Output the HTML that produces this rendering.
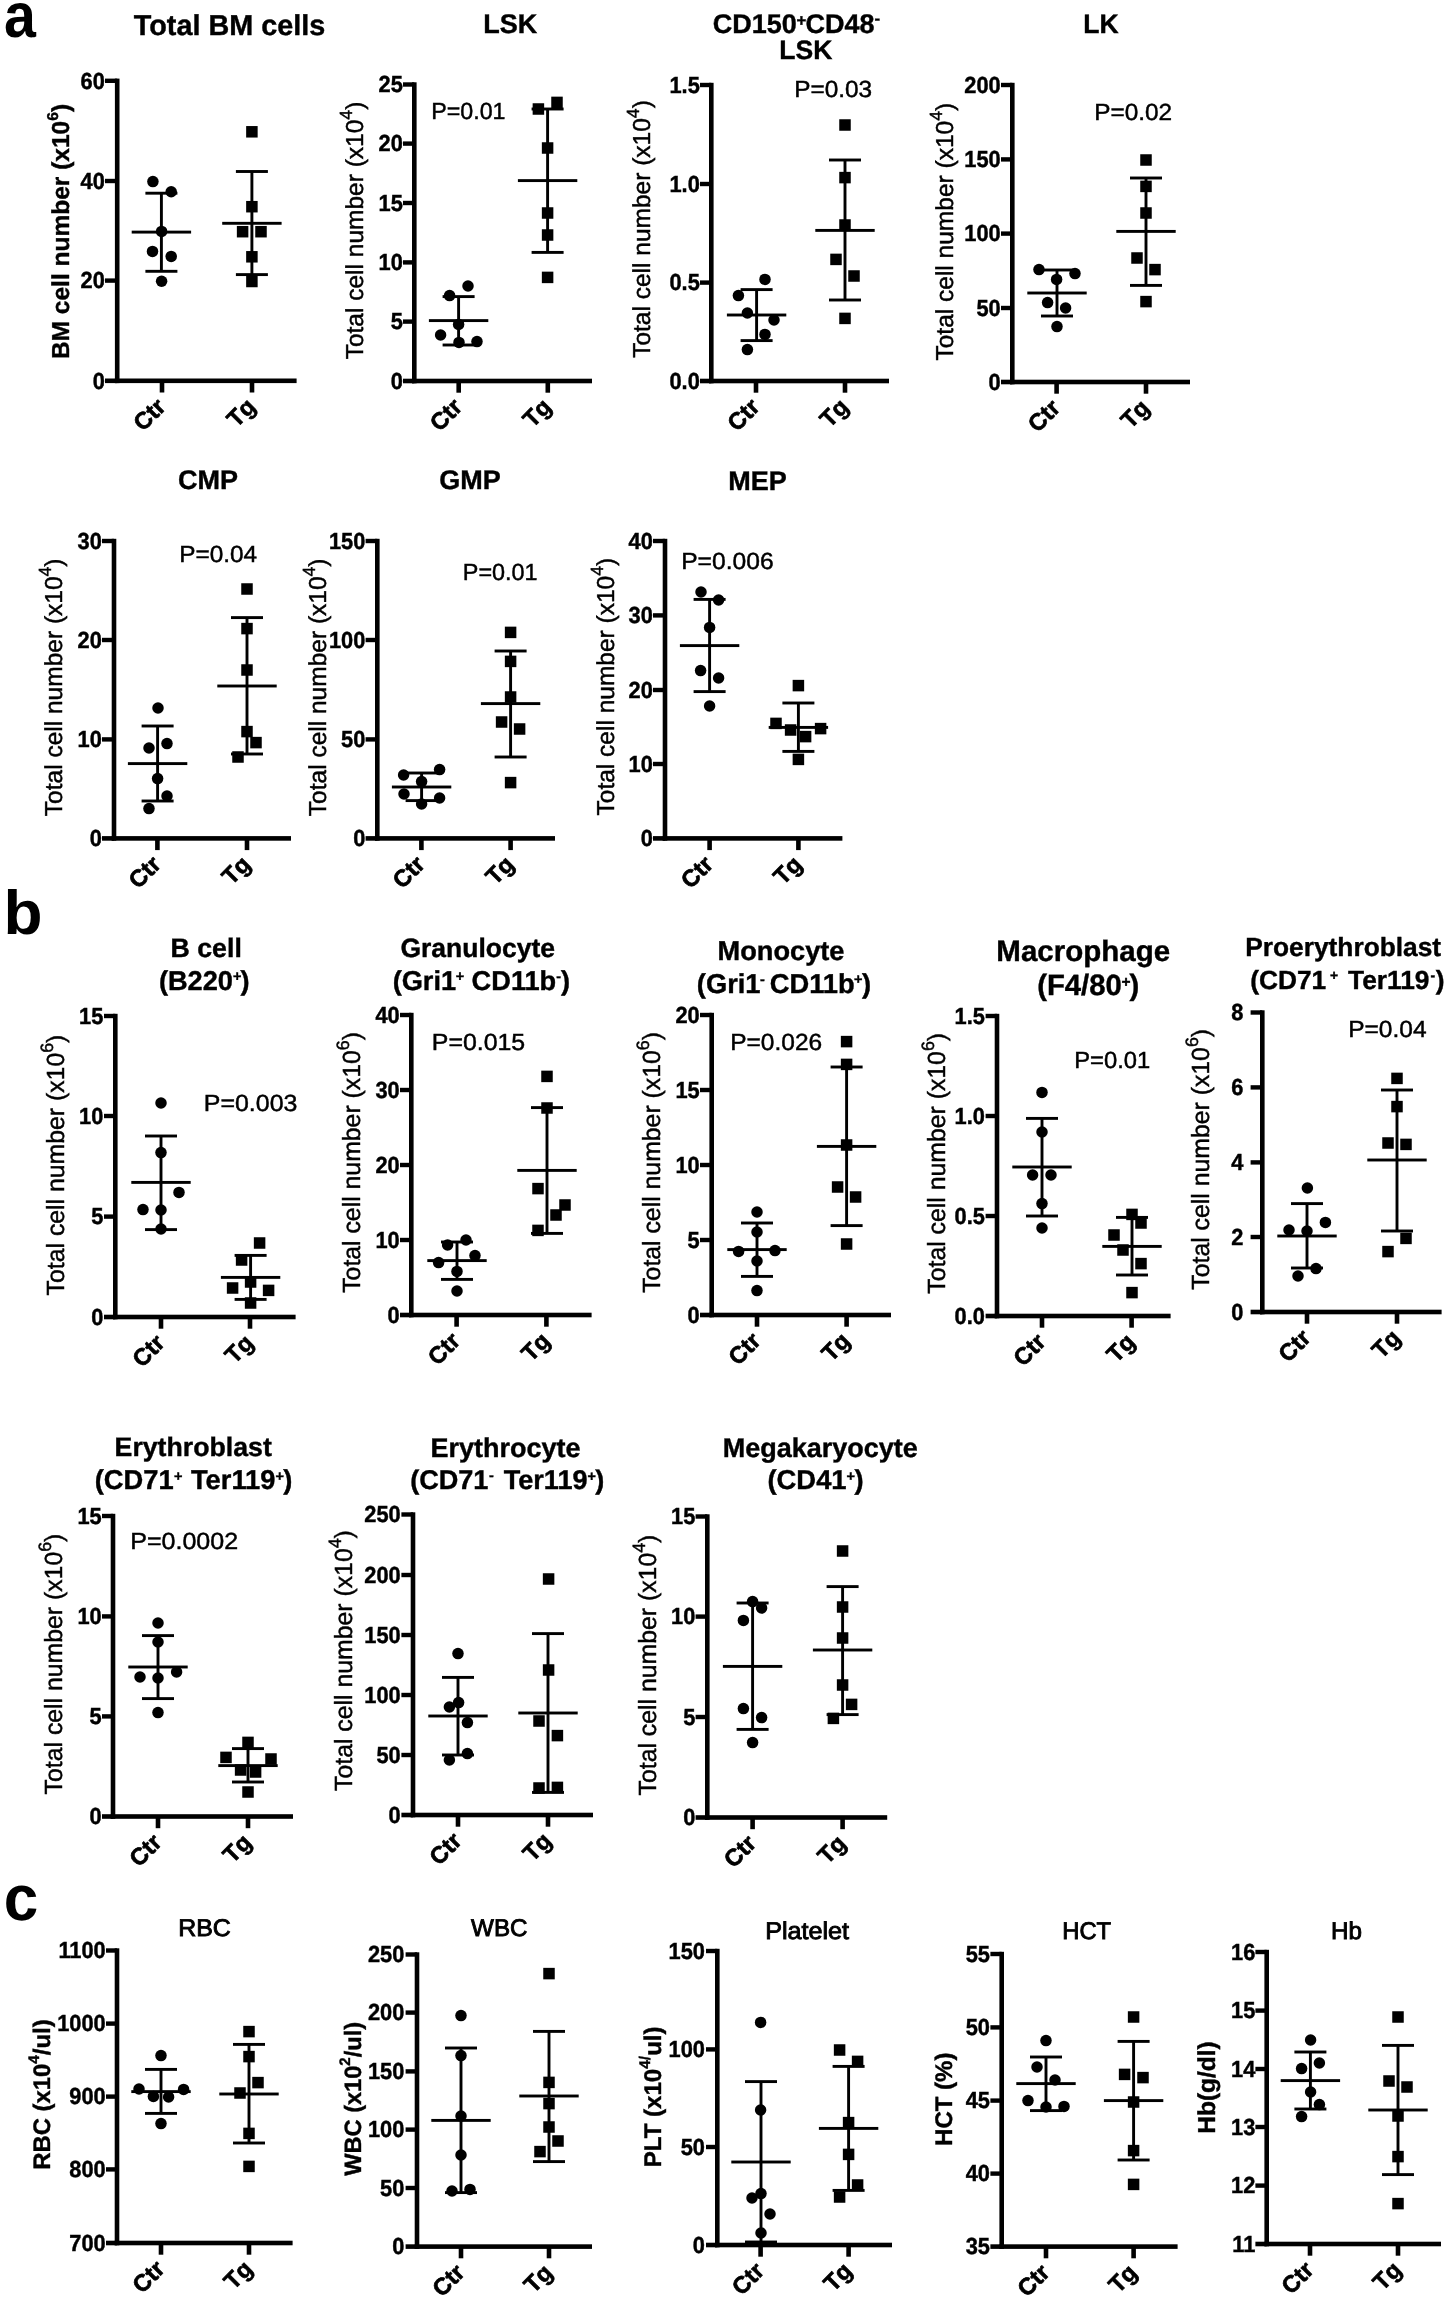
<!DOCTYPE html>
<html><head><meta charset="utf-8"><title>Figure</title>
<style>
html,body{margin:0;padding:0;background:#fff;}
svg{display:block;font-family:"Liberation Sans", sans-serif;fill:#000;will-change:transform;text-rendering:geometricPrecision;}
</style></head><body>
<svg width="1451" height="2300" viewBox="0 0 1451 2300">
<rect x="0" y="0" width="1451" height="2300" fill="#fff"/>
<g>
<rect x="114.9" y="78.6" width="4.6" height="304.5"/>
<rect x="114.9" y="378.5" width="181.7" height="4.6"/>
<rect x="105" y="78.6" width="12.2" height="4.4"/>
<text transform="translate(104.8 88.6) scale(0.94 1)" font-size="23.2" font-weight="bold" text-anchor="end" stroke="#000" stroke-width="0.45">60</text>
<rect x="105" y="178.8" width="12.2" height="4.4"/>
<text transform="translate(104.8 188.8) scale(0.94 1)" font-size="23.2" font-weight="bold" text-anchor="end" stroke="#000" stroke-width="0.45">40</text>
<rect x="105" y="278.4" width="12.2" height="4.4"/>
<text transform="translate(104.8 288.4) scale(0.94 1)" font-size="23.2" font-weight="bold" text-anchor="end" stroke="#000" stroke-width="0.45">20</text>
<rect x="105" y="378.5" width="12.2" height="4.6"/>
<text transform="translate(104.8 388.6) scale(0.94 1)" font-size="23.2" font-weight="bold" text-anchor="end" stroke="#000" stroke-width="0.45">0</text>
<rect x="159.7" y="380.8" width="4.6" height="11.7"/>
<text x="166.9" y="408.2" font-size="23.5" font-weight="bold" stroke="#000" stroke-width="0.7" text-anchor="end" transform="rotate(-45 166.9 408.2)">Ctr</text>
<rect x="249.7" y="380.8" width="4.6" height="11.7"/>
<text x="256.9" y="408.2" font-size="23.5" font-weight="bold" stroke="#000" stroke-width="0.7" text-anchor="end" transform="rotate(-45 256.9 408.2)">Tg</text>
<text x="69.2" y="231.5" font-size="24.5" font-weight="bold" stroke="#000" stroke-width="0.4" text-anchor="middle" transform="rotate(-90 69.2 231.5)">BM cell number (x10<tspan font-size="15.68" dy="-11.27">6</tspan><tspan dy="11.27">)</tspan></text>
<rect x="131.7" y="230.65" width="59.4" height="2.9"/>
<rect x="145.4" y="191.75" width="32" height="2.9"/>
<rect x="145.4" y="269.85" width="32" height="2.9"/>
<rect x="159.95" y="193.2" width="2.9" height="78.1"/>
<circle cx="152.9" cy="181.6" r="5.75"/>
<circle cx="171.2" cy="191.8" r="5.75"/>
<circle cx="161.6" cy="231.4" r="5.75"/>
<circle cx="152.5" cy="251.4" r="5.75"/>
<circle cx="171.2" cy="256.4" r="5.75"/>
<circle cx="161.6" cy="281.3" r="5.75"/>
<rect x="222.2" y="221.85" width="59.4" height="2.9"/>
<rect x="235.9" y="170.05" width="32" height="2.9"/>
<rect x="235.9" y="273.15" width="32" height="2.9"/>
<rect x="250.45" y="171.5" width="2.9" height="103.1"/>
<rect x="246.15" y="126.05" width="11.5" height="11.5"/>
<rect x="246.15" y="200.95" width="11.5" height="11.5"/>
<rect x="236.85" y="225.95" width="11.5" height="11.5"/>
<rect x="255.25" y="225.95" width="11.5" height="11.5"/>
<rect x="246.15" y="251.05" width="11.5" height="11.5"/>
<rect x="246.15" y="275.75" width="11.5" height="11.5"/>
</g>
<g>
<rect x="412" y="82.3" width="4.6" height="301"/>
<rect x="412" y="378.7" width="180" height="4.6"/>
<rect x="403" y="82.3" width="11.3" height="4.4"/>
<text transform="translate(402.8 92.3) scale(0.94 1)" font-size="23.2" font-weight="bold" text-anchor="end" stroke="#000" stroke-width="0.45">25</text>
<rect x="403" y="141.4" width="11.3" height="4.4"/>
<text transform="translate(402.8 151.4) scale(0.94 1)" font-size="23.2" font-weight="bold" text-anchor="end" stroke="#000" stroke-width="0.45">20</text>
<rect x="403" y="200.8" width="11.3" height="4.4"/>
<text transform="translate(402.8 210.8) scale(0.94 1)" font-size="23.2" font-weight="bold" text-anchor="end" stroke="#000" stroke-width="0.45">15</text>
<rect x="403" y="260.2" width="11.3" height="4.4"/>
<text transform="translate(402.8 270.2) scale(0.94 1)" font-size="23.2" font-weight="bold" text-anchor="end" stroke="#000" stroke-width="0.45">10</text>
<rect x="403" y="319.4" width="11.3" height="4.4"/>
<text transform="translate(402.8 329.4) scale(0.94 1)" font-size="23.2" font-weight="bold" text-anchor="end" stroke="#000" stroke-width="0.45">5</text>
<rect x="403" y="378.7" width="11.3" height="4.6"/>
<text transform="translate(402.8 388.8) scale(0.94 1)" font-size="23.2" font-weight="bold" text-anchor="end" stroke="#000" stroke-width="0.45">0</text>
<rect x="456.4" y="381" width="4.6" height="11.7"/>
<text x="463.6" y="408.4" font-size="23.5" font-weight="bold" stroke="#000" stroke-width="0.7" text-anchor="end" transform="rotate(-45 463.6 408.4)">Ctr</text>
<rect x="545.5" y="381" width="4.6" height="11.7"/>
<text x="552.7" y="408.4" font-size="23.5" font-weight="bold" stroke="#000" stroke-width="0.7" text-anchor="end" transform="rotate(-45 552.7 408.4)">Tg</text>
<text x="363" y="230.5" font-size="24.5" stroke="#000" stroke-width="0.45" text-anchor="middle" transform="rotate(-90 363 230.5)">Total cell number (x10<tspan font-size="17.64" dy="-10.78">4</tspan><tspan dy="10.78">)</tspan></text>
<rect x="428.9" y="319.15" width="59.4" height="2.9"/>
<rect x="442.6" y="295.15" width="32" height="2.9"/>
<rect x="442.6" y="343.55" width="32" height="2.9"/>
<rect x="457.15" y="296.6" width="2.9" height="48.4"/>
<circle cx="468" cy="286" r="5.75"/>
<circle cx="449.6" cy="295.6" r="5.75"/>
<circle cx="458.6" cy="324.4" r="5.75"/>
<circle cx="440.6" cy="335" r="5.75"/>
<circle cx="459" cy="342.4" r="5.75"/>
<circle cx="477" cy="341.6" r="5.75"/>
<rect x="517.9" y="179.15" width="59.4" height="2.9"/>
<rect x="531.6" y="107.55" width="32" height="2.9"/>
<rect x="531.6" y="250.95" width="32" height="2.9"/>
<rect x="546.15" y="109" width="2.9" height="143.4"/>
<rect x="532.65" y="103.25" width="11.5" height="11.5"/>
<rect x="551.25" y="96.65" width="11.5" height="11.5"/>
<rect x="541.85" y="142.25" width="11.5" height="11.5"/>
<rect x="541.85" y="207.25" width="11.5" height="11.5"/>
<rect x="541.85" y="229.25" width="11.5" height="11.5"/>
<rect x="541.85" y="271.65" width="11.5" height="11.5"/>
<text x="431.2" y="119" font-size="23.3" stroke="#000" stroke-width="0.45" textLength="74.3" lengthAdjust="spacingAndGlyphs">P=0.01</text>
</g>
<g>
<rect x="709" y="82.8" width="4.6" height="300.5"/>
<rect x="709" y="378.7" width="180" height="4.6"/>
<rect x="700" y="82.8" width="11.3" height="4.4"/>
<text transform="translate(699.8 92.8) scale(0.94 1)" font-size="23.2" font-weight="bold" text-anchor="end" stroke="#000" stroke-width="0.45">1.5</text>
<rect x="700" y="181.8" width="11.3" height="4.4"/>
<text transform="translate(699.8 191.8) scale(0.94 1)" font-size="23.2" font-weight="bold" text-anchor="end" stroke="#000" stroke-width="0.45">1.0</text>
<rect x="700" y="280.4" width="11.3" height="4.4"/>
<text transform="translate(699.8 290.4) scale(0.94 1)" font-size="23.2" font-weight="bold" text-anchor="end" stroke="#000" stroke-width="0.45">0.5</text>
<rect x="700" y="378.7" width="11.3" height="4.6"/>
<text transform="translate(699.8 388.8) scale(0.94 1)" font-size="23.2" font-weight="bold" text-anchor="end" stroke="#000" stroke-width="0.45">0.0</text>
<rect x="753.7" y="381" width="4.6" height="11.7"/>
<text x="760.9" y="408.4" font-size="23.5" font-weight="bold" stroke="#000" stroke-width="0.7" text-anchor="end" transform="rotate(-45 760.9 408.4)">Ctr</text>
<rect x="842.7" y="381" width="4.6" height="11.7"/>
<text x="849.9" y="408.4" font-size="23.5" font-weight="bold" stroke="#000" stroke-width="0.7" text-anchor="end" transform="rotate(-45 849.9 408.4)">Tg</text>
<text x="650" y="229" font-size="24.5" stroke="#000" stroke-width="0.45" text-anchor="middle" transform="rotate(-90 650 229)">Total cell number (x10<tspan font-size="17.64" dy="-10.78">4</tspan><tspan dy="10.78">)</tspan></text>
<rect x="726.9" y="313.55" width="59.4" height="2.9"/>
<rect x="740.6" y="288.15" width="32" height="2.9"/>
<rect x="740.6" y="339.15" width="32" height="2.9"/>
<rect x="755.15" y="289.6" width="2.9" height="51"/>
<circle cx="765" cy="279.4" r="5.75"/>
<circle cx="738.4" cy="295.6" r="5.75"/>
<circle cx="747.4" cy="313" r="5.75"/>
<circle cx="774" cy="320" r="5.75"/>
<circle cx="765" cy="334.4" r="5.75"/>
<circle cx="747.4" cy="349.6" r="5.75"/>
<rect x="815.3" y="228.95" width="59.4" height="2.9"/>
<rect x="829" y="158.55" width="32" height="2.9"/>
<rect x="829" y="298.55" width="32" height="2.9"/>
<rect x="843.55" y="160" width="2.9" height="140"/>
<rect x="839.25" y="119.25" width="11.5" height="11.5"/>
<rect x="839.25" y="171.85" width="11.5" height="11.5"/>
<rect x="839.25" y="219.25" width="11.5" height="11.5"/>
<rect x="830.25" y="253.65" width="11.5" height="11.5"/>
<rect x="848.25" y="270.25" width="11.5" height="11.5"/>
<rect x="839.25" y="312.65" width="11.5" height="11.5"/>
<text x="794.2" y="97" font-size="23.3" stroke="#000" stroke-width="0.45" textLength="78" lengthAdjust="spacingAndGlyphs">P=0.03</text>
</g>
<g>
<rect x="1010" y="82.8" width="4.6" height="301.5"/>
<rect x="1010" y="379.7" width="180" height="4.6"/>
<rect x="1001" y="82.8" width="11.3" height="4.4"/>
<text transform="translate(1000.7 92.8) scale(0.94 1)" font-size="23.2" font-weight="bold" text-anchor="end" stroke="#000" stroke-width="0.45">200</text>
<rect x="1001" y="157.2" width="11.3" height="4.4"/>
<text transform="translate(1000.7 167.2) scale(0.94 1)" font-size="23.2" font-weight="bold" text-anchor="end" stroke="#000" stroke-width="0.45">150</text>
<rect x="1001" y="231.4" width="11.3" height="4.4"/>
<text transform="translate(1000.7 241.4) scale(0.94 1)" font-size="23.2" font-weight="bold" text-anchor="end" stroke="#000" stroke-width="0.45">100</text>
<rect x="1001" y="305.8" width="11.3" height="4.4"/>
<text transform="translate(1000.7 315.8) scale(0.94 1)" font-size="23.2" font-weight="bold" text-anchor="end" stroke="#000" stroke-width="0.45">50</text>
<rect x="1001" y="379.7" width="11.3" height="4.6"/>
<text transform="translate(1000.7 389.8) scale(0.94 1)" font-size="23.2" font-weight="bold" text-anchor="end" stroke="#000" stroke-width="0.45">0</text>
<rect x="1054.3" y="382" width="4.6" height="11.7"/>
<text x="1061.5" y="409.4" font-size="23.5" font-weight="bold" stroke="#000" stroke-width="0.7" text-anchor="end" transform="rotate(-45 1061.5 409.4)">Ctr</text>
<rect x="1143.7" y="382" width="4.6" height="11.7"/>
<text x="1150.9" y="409.4" font-size="23.5" font-weight="bold" stroke="#000" stroke-width="0.7" text-anchor="end" transform="rotate(-45 1150.9 409.4)">Tg</text>
<text x="953" y="231.7" font-size="24.5" stroke="#000" stroke-width="0.45" text-anchor="middle" transform="rotate(-90 953 231.7)">Total cell number (x10<tspan font-size="17.64" dy="-10.78">4</tspan><tspan dy="10.78">)</tspan></text>
<rect x="1027.3" y="291.55" width="59.4" height="2.9"/>
<rect x="1041" y="268.55" width="32" height="2.9"/>
<rect x="1041" y="314.55" width="32" height="2.9"/>
<rect x="1055.55" y="270" width="2.9" height="46"/>
<circle cx="1039" cy="269.6" r="5.75"/>
<circle cx="1075" cy="273.6" r="5.75"/>
<circle cx="1056.6" cy="279.4" r="5.75"/>
<circle cx="1047.6" cy="302.6" r="5.75"/>
<circle cx="1065.6" cy="308" r="5.75"/>
<circle cx="1057" cy="326.6" r="5.75"/>
<rect x="1116.3" y="229.95" width="59.4" height="2.9"/>
<rect x="1130" y="176.55" width="32" height="2.9"/>
<rect x="1130" y="283.95" width="32" height="2.9"/>
<rect x="1144.55" y="178" width="2.9" height="107.4"/>
<rect x="1140.25" y="154.25" width="11.5" height="11.5"/>
<rect x="1140.25" y="180.65" width="11.5" height="11.5"/>
<rect x="1140.25" y="207.25" width="11.5" height="11.5"/>
<rect x="1131.25" y="252.25" width="11.5" height="11.5"/>
<rect x="1149.25" y="263.85" width="11.5" height="11.5"/>
<rect x="1140.25" y="295.85" width="11.5" height="11.5"/>
<text x="1094.2" y="119.6" font-size="23.3" stroke="#000" stroke-width="0.45" textLength="78" lengthAdjust="spacingAndGlyphs">P=0.02</text>
</g>
<g>
<rect x="111.7" y="538.8" width="4.6" height="301.9"/>
<rect x="111.7" y="836.1" width="179.3" height="4.6"/>
<rect x="102" y="538.8" width="12" height="4.4"/>
<text transform="translate(101.8 548.8) scale(0.94 1)" font-size="23.2" font-weight="bold" text-anchor="end" stroke="#000" stroke-width="0.45">30</text>
<rect x="102" y="637.8" width="12" height="4.4"/>
<text transform="translate(101.8 647.8) scale(0.94 1)" font-size="23.2" font-weight="bold" text-anchor="end" stroke="#000" stroke-width="0.45">20</text>
<rect x="102" y="737.2" width="12" height="4.4"/>
<text transform="translate(101.8 747.2) scale(0.94 1)" font-size="23.2" font-weight="bold" text-anchor="end" stroke="#000" stroke-width="0.45">10</text>
<rect x="102" y="836.1" width="12" height="4.6"/>
<text transform="translate(101.8 846.2) scale(0.94 1)" font-size="23.2" font-weight="bold" text-anchor="end" stroke="#000" stroke-width="0.45">0</text>
<rect x="155.1" y="838.4" width="4.6" height="11.7"/>
<text x="162.3" y="865.8" font-size="23.5" font-weight="bold" stroke="#000" stroke-width="0.7" text-anchor="end" transform="rotate(-45 162.3 865.8)">Ctr</text>
<rect x="244.7" y="838.4" width="4.6" height="11.7"/>
<text x="251.9" y="865.8" font-size="23.5" font-weight="bold" stroke="#000" stroke-width="0.7" text-anchor="end" transform="rotate(-45 251.9 865.8)">Tg</text>
<text x="62" y="687.3" font-size="24.5" stroke="#000" stroke-width="0.45" text-anchor="middle" transform="rotate(-90 62 687.3)">Total cell number (x10<tspan font-size="17.64" dy="-10.78">4</tspan><tspan dy="10.78">)</tspan></text>
<rect x="127.9" y="762.15" width="59.4" height="2.9"/>
<rect x="141.6" y="724.55" width="32" height="2.9"/>
<rect x="141.6" y="799.55" width="32" height="2.9"/>
<rect x="156.15" y="726" width="2.9" height="75"/>
<circle cx="158" cy="708" r="5.75"/>
<circle cx="149" cy="748" r="5.75"/>
<circle cx="167" cy="743.6" r="5.75"/>
<circle cx="157.6" cy="778.6" r="5.75"/>
<circle cx="167" cy="796" r="5.75"/>
<circle cx="149" cy="808.6" r="5.75"/>
<rect x="217.3" y="684.55" width="59.4" height="2.9"/>
<rect x="231" y="616.15" width="32" height="2.9"/>
<rect x="231" y="752.55" width="32" height="2.9"/>
<rect x="245.55" y="617.6" width="2.9" height="136.4"/>
<rect x="241.25" y="583.25" width="11.5" height="11.5"/>
<rect x="241.25" y="622.85" width="11.5" height="11.5"/>
<rect x="241.25" y="664.25" width="11.5" height="11.5"/>
<rect x="241.25" y="725.85" width="11.5" height="11.5"/>
<rect x="250.25" y="736.85" width="11.5" height="11.5"/>
<rect x="232.25" y="751.25" width="11.5" height="11.5"/>
<text x="179.2" y="562" font-size="23.3" stroke="#000" stroke-width="0.45" textLength="78" lengthAdjust="spacingAndGlyphs">P=0.04</text>
</g>
<g>
<rect x="375" y="538.8" width="4.6" height="301.9"/>
<rect x="375" y="836.1" width="180" height="4.6"/>
<rect x="365.6" y="538.8" width="11.7" height="4.4"/>
<text transform="translate(365.3 548.8) scale(0.94 1)" font-size="23.2" font-weight="bold" text-anchor="end" stroke="#000" stroke-width="0.45">150</text>
<rect x="365.6" y="637.8" width="11.7" height="4.4"/>
<text transform="translate(365.3 647.8) scale(0.94 1)" font-size="23.2" font-weight="bold" text-anchor="end" stroke="#000" stroke-width="0.45">100</text>
<rect x="365.6" y="737.2" width="11.7" height="4.4"/>
<text transform="translate(365.3 747.2) scale(0.94 1)" font-size="23.2" font-weight="bold" text-anchor="end" stroke="#000" stroke-width="0.45">50</text>
<rect x="365.6" y="836.1" width="11.7" height="4.6"/>
<text transform="translate(365.3 846.2) scale(0.94 1)" font-size="23.2" font-weight="bold" text-anchor="end" stroke="#000" stroke-width="0.45">0</text>
<rect x="419.1" y="838.4" width="4.6" height="11.7"/>
<text x="426.3" y="865.8" font-size="23.5" font-weight="bold" stroke="#000" stroke-width="0.7" text-anchor="end" transform="rotate(-45 426.3 865.8)">Ctr</text>
<rect x="508.3" y="838.4" width="4.6" height="11.7"/>
<text x="515.5" y="865.8" font-size="23.5" font-weight="bold" stroke="#000" stroke-width="0.7" text-anchor="end" transform="rotate(-45 515.5 865.8)">Tg</text>
<text x="326" y="687.3" font-size="24.5" stroke="#000" stroke-width="0.45" text-anchor="middle" transform="rotate(-90 326 687.3)">Total cell number (x10<tspan font-size="17.64" dy="-10.78">4</tspan><tspan dy="10.78">)</tspan></text>
<rect x="391.9" y="785.55" width="59.4" height="2.9"/>
<rect x="405.6" y="771.55" width="32" height="2.9"/>
<rect x="405.6" y="799.15" width="32" height="2.9"/>
<rect x="420.15" y="773" width="2.9" height="27.6"/>
<circle cx="403.6" cy="775" r="5.75"/>
<circle cx="439.6" cy="769.6" r="5.75"/>
<circle cx="421.6" cy="781.6" r="5.75"/>
<circle cx="404" cy="794" r="5.75"/>
<circle cx="439.6" cy="798" r="5.75"/>
<circle cx="421.6" cy="804" r="5.75"/>
<rect x="480.9" y="702.15" width="59.4" height="2.9"/>
<rect x="494.6" y="649.55" width="32" height="2.9"/>
<rect x="494.6" y="755.55" width="32" height="2.9"/>
<rect x="509.15" y="651" width="2.9" height="106"/>
<rect x="504.85" y="626.65" width="11.5" height="11.5"/>
<rect x="504.85" y="655.65" width="11.5" height="11.5"/>
<rect x="504.85" y="691.25" width="11.5" height="11.5"/>
<rect x="495.85" y="716.25" width="11.5" height="11.5"/>
<rect x="513.85" y="723.25" width="11.5" height="11.5"/>
<rect x="504.85" y="776.85" width="11.5" height="11.5"/>
<text x="462.8" y="579.6" font-size="23.3" stroke="#000" stroke-width="0.45" textLength="74.8" lengthAdjust="spacingAndGlyphs">P=0.01</text>
</g>
<g>
<rect x="662.7" y="538.8" width="4.6" height="301.9"/>
<rect x="662.7" y="836.1" width="179.7" height="4.6"/>
<rect x="653" y="538.8" width="12" height="4.4"/>
<text transform="translate(652.8 548.8) scale(0.94 1)" font-size="23.2" font-weight="bold" text-anchor="end" stroke="#000" stroke-width="0.45">40</text>
<rect x="653" y="613.2" width="12" height="4.4"/>
<text transform="translate(652.8 623.2) scale(0.94 1)" font-size="23.2" font-weight="bold" text-anchor="end" stroke="#000" stroke-width="0.45">30</text>
<rect x="653" y="687.8" width="12" height="4.4"/>
<text transform="translate(652.8 697.8) scale(0.94 1)" font-size="23.2" font-weight="bold" text-anchor="end" stroke="#000" stroke-width="0.45">20</text>
<rect x="653" y="761.8" width="12" height="4.4"/>
<text transform="translate(652.8 771.8) scale(0.94 1)" font-size="23.2" font-weight="bold" text-anchor="end" stroke="#000" stroke-width="0.45">10</text>
<rect x="653" y="836.1" width="12" height="4.6"/>
<text transform="translate(652.8 846.2) scale(0.94 1)" font-size="23.2" font-weight="bold" text-anchor="end" stroke="#000" stroke-width="0.45">0</text>
<rect x="707.3" y="838.4" width="4.6" height="11.7"/>
<text x="714.5" y="865.8" font-size="23.5" font-weight="bold" stroke="#000" stroke-width="0.7" text-anchor="end" transform="rotate(-45 714.5 865.8)">Ctr</text>
<rect x="796.1" y="838.4" width="4.6" height="11.7"/>
<text x="803.3" y="865.8" font-size="23.5" font-weight="bold" stroke="#000" stroke-width="0.7" text-anchor="end" transform="rotate(-45 803.3 865.8)">Tg</text>
<text x="613.6" y="686.6" font-size="24.5" stroke="#000" stroke-width="0.45" text-anchor="middle" transform="rotate(-90 613.6 686.6)">Total cell number (x10<tspan font-size="17.64" dy="-10.78">4</tspan><tspan dy="10.78">)</tspan></text>
<rect x="679.9" y="644.15" width="59.4" height="2.9"/>
<rect x="693.6" y="597.95" width="32" height="2.9"/>
<rect x="693.6" y="690.15" width="32" height="2.9"/>
<rect x="708.15" y="599.4" width="2.9" height="92.2"/>
<circle cx="701" cy="592" r="5.75"/>
<circle cx="718.6" cy="600" r="5.75"/>
<circle cx="709.6" cy="627.4" r="5.75"/>
<circle cx="700.6" cy="670.6" r="5.75"/>
<circle cx="718.6" cy="678" r="5.75"/>
<circle cx="709.6" cy="706" r="5.75"/>
<rect x="768.7" y="725.95" width="59.4" height="2.9"/>
<rect x="782.4" y="701.55" width="32" height="2.9"/>
<rect x="782.4" y="749.95" width="32" height="2.9"/>
<rect x="796.95" y="703" width="2.9" height="48.4"/>
<rect x="792.65" y="679.85" width="11.5" height="11.5"/>
<rect x="770.25" y="717.65" width="11.5" height="11.5"/>
<rect x="784.85" y="724.25" width="11.5" height="11.5"/>
<rect x="814.85" y="722.85" width="11.5" height="11.5"/>
<rect x="799.85" y="730.85" width="11.5" height="11.5"/>
<rect x="792.65" y="753.65" width="11.5" height="11.5"/>
<text x="681.2" y="569" font-size="23.3" stroke="#000" stroke-width="0.45" textLength="92.4" lengthAdjust="spacingAndGlyphs">P=0.006</text>
</g>
<g>
<rect x="113" y="1013.8" width="4.6" height="305.5"/>
<rect x="113" y="1314.7" width="182.6" height="4.6"/>
<rect x="104" y="1013.8" width="11.3" height="4.4"/>
<text transform="translate(103.3 1023.8) scale(0.94 1)" font-size="23.2" font-weight="bold" text-anchor="end" stroke="#000" stroke-width="0.45">15</text>
<rect x="104" y="1113.8" width="11.3" height="4.4"/>
<text transform="translate(103.3 1123.8) scale(0.94 1)" font-size="23.2" font-weight="bold" text-anchor="end" stroke="#000" stroke-width="0.45">10</text>
<rect x="104" y="1214.4" width="11.3" height="4.4"/>
<text transform="translate(103.3 1224.4) scale(0.94 1)" font-size="23.2" font-weight="bold" text-anchor="end" stroke="#000" stroke-width="0.45">5</text>
<rect x="104" y="1314.7" width="11.3" height="4.6"/>
<text transform="translate(103.3 1324.8) scale(0.94 1)" font-size="23.2" font-weight="bold" text-anchor="end" stroke="#000" stroke-width="0.45">0</text>
<rect x="158.7" y="1317" width="4.6" height="11.7"/>
<text x="165.9" y="1344.4" font-size="23.5" font-weight="bold" stroke="#000" stroke-width="0.7" text-anchor="end" transform="rotate(-45 165.9 1344.4)">Ctr</text>
<rect x="247.7" y="1317" width="4.6" height="11.7"/>
<text x="254.9" y="1344.4" font-size="23.5" font-weight="bold" stroke="#000" stroke-width="0.7" text-anchor="end" transform="rotate(-45 254.9 1344.4)">Tg</text>
<text x="63.6" y="1165" font-size="24.8" stroke="#000" stroke-width="0.45" text-anchor="middle" transform="rotate(-90 63.6 1165)">Total cell number (x10<tspan font-size="17.86" dy="-10.91">6</tspan><tspan dy="10.91">)</tspan></text>
<rect x="131.3" y="1180.95" width="59.4" height="2.9"/>
<rect x="145" y="1134.55" width="32" height="2.9"/>
<rect x="145" y="1228.15" width="32" height="2.9"/>
<rect x="159.55" y="1136" width="2.9" height="93.6"/>
<circle cx="161" cy="1103" r="5.75"/>
<circle cx="161" cy="1152.6" r="5.75"/>
<circle cx="179" cy="1192.4" r="5.75"/>
<circle cx="143" cy="1209.6" r="5.75"/>
<circle cx="161" cy="1210" r="5.75"/>
<circle cx="161" cy="1229" r="5.75"/>
<rect x="220.9" y="1275.95" width="59.4" height="2.9"/>
<rect x="234.6" y="1253.95" width="32" height="2.9"/>
<rect x="234.6" y="1297.95" width="32" height="2.9"/>
<rect x="249.15" y="1255.4" width="2.9" height="44"/>
<rect x="253.85" y="1237.25" width="11.5" height="11.5"/>
<rect x="235.85" y="1254.25" width="11.5" height="11.5"/>
<rect x="244.85" y="1276.25" width="11.5" height="11.5"/>
<rect x="226.85" y="1282.25" width="11.5" height="11.5"/>
<rect x="262.85" y="1284.65" width="11.5" height="11.5"/>
<rect x="244.85" y="1297.25" width="11.5" height="11.5"/>
<text x="203.8" y="1111" font-size="23.3" stroke="#000" stroke-width="0.45" textLength="93.6" lengthAdjust="spacingAndGlyphs">P=0.003</text>
</g>
<g>
<rect x="409" y="1012.8" width="4.6" height="304.5"/>
<rect x="409" y="1312.7" width="182.6" height="4.6"/>
<rect x="400" y="1012.8" width="11.3" height="4.4"/>
<text transform="translate(399.7 1022.8) scale(0.94 1)" font-size="23.2" font-weight="bold" text-anchor="end" stroke="#000" stroke-width="0.45">40</text>
<rect x="400" y="1087.8" width="11.3" height="4.4"/>
<text transform="translate(399.7 1097.8) scale(0.94 1)" font-size="23.2" font-weight="bold" text-anchor="end" stroke="#000" stroke-width="0.45">30</text>
<rect x="400" y="1162.8" width="11.3" height="4.4"/>
<text transform="translate(399.7 1172.8) scale(0.94 1)" font-size="23.2" font-weight="bold" text-anchor="end" stroke="#000" stroke-width="0.45">20</text>
<rect x="400" y="1237.8" width="11.3" height="4.4"/>
<text transform="translate(399.7 1247.8) scale(0.94 1)" font-size="23.2" font-weight="bold" text-anchor="end" stroke="#000" stroke-width="0.45">10</text>
<rect x="400" y="1312.7" width="11.3" height="4.6"/>
<text transform="translate(399.7 1322.8) scale(0.94 1)" font-size="23.2" font-weight="bold" text-anchor="end" stroke="#000" stroke-width="0.45">0</text>
<rect x="454.3" y="1315" width="4.6" height="11.7"/>
<text x="461.5" y="1342.4" font-size="23.5" font-weight="bold" stroke="#000" stroke-width="0.7" text-anchor="end" transform="rotate(-45 461.5 1342.4)">Ctr</text>
<rect x="544.1" y="1315" width="4.6" height="11.7"/>
<text x="551.3" y="1342.4" font-size="23.5" font-weight="bold" stroke="#000" stroke-width="0.7" text-anchor="end" transform="rotate(-45 551.3 1342.4)">Tg</text>
<text x="359.6" y="1162.4" font-size="24.8" stroke="#000" stroke-width="0.45" text-anchor="middle" transform="rotate(-90 359.6 1162.4)">Total cell number (x10<tspan font-size="17.86" dy="-10.91">6</tspan><tspan dy="10.91">)</tspan></text>
<rect x="427.3" y="1259.15" width="59.4" height="2.9"/>
<rect x="441" y="1240.55" width="32" height="2.9"/>
<rect x="441" y="1277.95" width="32" height="2.9"/>
<rect x="455.55" y="1242" width="2.9" height="37.4"/>
<circle cx="447.6" cy="1245" r="5.75"/>
<circle cx="466" cy="1240" r="5.75"/>
<circle cx="475" cy="1255.6" r="5.75"/>
<circle cx="438.6" cy="1262.6" r="5.75"/>
<circle cx="457" cy="1271.4" r="5.75"/>
<circle cx="457" cy="1291" r="5.75"/>
<rect x="517.3" y="1168.95" width="59.4" height="2.9"/>
<rect x="531" y="1106.15" width="32" height="2.9"/>
<rect x="531" y="1231.95" width="32" height="2.9"/>
<rect x="545.55" y="1107.6" width="2.9" height="125.8"/>
<rect x="541.25" y="1070.65" width="11.5" height="11.5"/>
<rect x="541.25" y="1102.25" width="11.5" height="11.5"/>
<rect x="532.25" y="1182.85" width="11.5" height="11.5"/>
<rect x="559.25" y="1199.25" width="11.5" height="11.5"/>
<rect x="550.25" y="1209.25" width="11.5" height="11.5"/>
<rect x="532.25" y="1224.65" width="11.5" height="11.5"/>
<text x="431.8" y="1050" font-size="23.3" stroke="#000" stroke-width="0.45" textLength="93.4" lengthAdjust="spacingAndGlyphs">P=0.015</text>
</g>
<g>
<rect x="709.4" y="1012.8" width="4.6" height="304.5"/>
<rect x="709.4" y="1312.7" width="181.6" height="4.6"/>
<rect x="700" y="1012.8" width="11.7" height="4.4"/>
<text transform="translate(699.7 1022.8) scale(0.94 1)" font-size="23.2" font-weight="bold" text-anchor="end" stroke="#000" stroke-width="0.45">20</text>
<rect x="700" y="1087.8" width="11.7" height="4.4"/>
<text transform="translate(699.7 1097.8) scale(0.94 1)" font-size="23.2" font-weight="bold" text-anchor="end" stroke="#000" stroke-width="0.45">15</text>
<rect x="700" y="1162.8" width="11.7" height="4.4"/>
<text transform="translate(699.7 1172.8) scale(0.94 1)" font-size="23.2" font-weight="bold" text-anchor="end" stroke="#000" stroke-width="0.45">10</text>
<rect x="700" y="1237.8" width="11.7" height="4.4"/>
<text transform="translate(699.7 1247.8) scale(0.94 1)" font-size="23.2" font-weight="bold" text-anchor="end" stroke="#000" stroke-width="0.45">5</text>
<rect x="700" y="1312.7" width="11.7" height="4.6"/>
<text transform="translate(699.7 1322.8) scale(0.94 1)" font-size="23.2" font-weight="bold" text-anchor="end" stroke="#000" stroke-width="0.45">0</text>
<rect x="754.7" y="1315" width="4.6" height="11.7"/>
<text x="761.9" y="1342.4" font-size="23.5" font-weight="bold" stroke="#000" stroke-width="0.7" text-anchor="end" transform="rotate(-45 761.9 1342.4)">Ctr</text>
<rect x="844.3" y="1315" width="4.6" height="11.7"/>
<text x="851.5" y="1342.4" font-size="23.5" font-weight="bold" stroke="#000" stroke-width="0.7" text-anchor="end" transform="rotate(-45 851.5 1342.4)">Tg</text>
<text x="659.6" y="1162.4" font-size="24.8" stroke="#000" stroke-width="0.45" text-anchor="middle" transform="rotate(-90 659.6 1162.4)">Total cell number (x10<tspan font-size="17.86" dy="-10.91">6</tspan><tspan dy="10.91">)</tspan></text>
<rect x="727.3" y="1248.15" width="59.4" height="2.9"/>
<rect x="741" y="1221.55" width="32" height="2.9"/>
<rect x="741" y="1274.95" width="32" height="2.9"/>
<rect x="755.55" y="1223" width="2.9" height="53.4"/>
<circle cx="757" cy="1212" r="5.75"/>
<circle cx="757" cy="1232" r="5.75"/>
<circle cx="738.6" cy="1251.4" r="5.75"/>
<circle cx="775" cy="1250.6" r="5.75"/>
<circle cx="757" cy="1261" r="5.75"/>
<circle cx="757" cy="1290.6" r="5.75"/>
<rect x="816.9" y="1144.95" width="59.4" height="2.9"/>
<rect x="830.6" y="1065.55" width="32" height="2.9"/>
<rect x="830.6" y="1224.15" width="32" height="2.9"/>
<rect x="845.15" y="1067" width="2.9" height="158.6"/>
<rect x="840.85" y="1035.85" width="11.5" height="11.5"/>
<rect x="840.85" y="1058.65" width="11.5" height="11.5"/>
<rect x="840.85" y="1139.25" width="11.5" height="11.5"/>
<rect x="831.85" y="1181.25" width="11.5" height="11.5"/>
<rect x="849.85" y="1191.25" width="11.5" height="11.5"/>
<rect x="840.85" y="1238.25" width="11.5" height="11.5"/>
<text x="730.2" y="1050" font-size="23.3" stroke="#000" stroke-width="0.45" textLength="92" lengthAdjust="spacingAndGlyphs">P=0.026</text>
</g>
<g>
<rect x="994.7" y="1013.8" width="4.6" height="304.5"/>
<rect x="994.7" y="1313.7" width="175.9" height="4.6"/>
<rect x="985.6" y="1013.8" width="11.4" height="4.4"/>
<text transform="translate(984.9 1023.8) scale(0.94 1)" font-size="23.2" font-weight="bold" text-anchor="end" stroke="#000" stroke-width="0.45">1.5</text>
<rect x="985.6" y="1113.8" width="11.4" height="4.4"/>
<text transform="translate(984.9 1123.8) scale(0.94 1)" font-size="23.2" font-weight="bold" text-anchor="end" stroke="#000" stroke-width="0.45">1.0</text>
<rect x="985.6" y="1213.8" width="11.4" height="4.4"/>
<text transform="translate(984.9 1223.8) scale(0.94 1)" font-size="23.2" font-weight="bold" text-anchor="end" stroke="#000" stroke-width="0.45">0.5</text>
<rect x="985.6" y="1313.7" width="11.4" height="4.6"/>
<text transform="translate(984.9 1323.8) scale(0.94 1)" font-size="23.2" font-weight="bold" text-anchor="end" stroke="#000" stroke-width="0.45">0.0</text>
<rect x="1039.7" y="1316" width="4.6" height="11.7"/>
<text x="1046.9" y="1343.4" font-size="23.5" font-weight="bold" stroke="#000" stroke-width="0.7" text-anchor="end" transform="rotate(-45 1046.9 1343.4)">Ctr</text>
<rect x="1129.3" y="1316" width="4.6" height="11.7"/>
<text x="1136.5" y="1343.4" font-size="23.5" font-weight="bold" stroke="#000" stroke-width="0.7" text-anchor="end" transform="rotate(-45 1136.5 1343.4)">Tg</text>
<text x="945" y="1163.3" font-size="24.8" stroke="#000" stroke-width="0.45" text-anchor="middle" transform="rotate(-90 945 1163.3)">Total cell number (x10<tspan font-size="17.86" dy="-10.91">6</tspan><tspan dy="10.91">)</tspan></text>
<rect x="1012.3" y="1165.55" width="59.4" height="2.9"/>
<rect x="1026" y="1116.95" width="32" height="2.9"/>
<rect x="1026" y="1214.55" width="32" height="2.9"/>
<rect x="1040.55" y="1118.4" width="2.9" height="97.6"/>
<circle cx="1042" cy="1092.4" r="5.75"/>
<circle cx="1042" cy="1132" r="5.75"/>
<circle cx="1032.6" cy="1175" r="5.75"/>
<circle cx="1051" cy="1175" r="5.75"/>
<circle cx="1042" cy="1203.6" r="5.75"/>
<circle cx="1042" cy="1228" r="5.75"/>
<rect x="1102.3" y="1244.95" width="59.4" height="2.9"/>
<rect x="1116" y="1215.95" width="32" height="2.9"/>
<rect x="1116" y="1273.55" width="32" height="2.9"/>
<rect x="1130.55" y="1217.4" width="2.9" height="57.6"/>
<rect x="1126.25" y="1208.65" width="11.5" height="11.5"/>
<rect x="1135.25" y="1217.25" width="11.5" height="11.5"/>
<rect x="1108.25" y="1229.25" width="11.5" height="11.5"/>
<rect x="1117.25" y="1244.25" width="11.5" height="11.5"/>
<rect x="1135.25" y="1257.85" width="11.5" height="11.5"/>
<rect x="1126.25" y="1286.85" width="11.5" height="11.5"/>
<text x="1074.2" y="1068.4" font-size="23.3" stroke="#000" stroke-width="0.45" textLength="76" lengthAdjust="spacingAndGlyphs">P=0.01</text>
</g>
<g>
<rect x="1260" y="1010.3" width="4.6" height="304"/>
<rect x="1260" y="1309.7" width="181.6" height="4.6"/>
<rect x="1250.6" y="1010.3" width="11.7" height="4.4"/>
<text transform="translate(1243.3 1020.3) scale(0.94 1)" font-size="23.2" font-weight="bold" text-anchor="end" stroke="#000" stroke-width="0.45">8</text>
<rect x="1250.6" y="1085.2" width="11.7" height="4.4"/>
<text transform="translate(1243.3 1095.2) scale(0.94 1)" font-size="23.2" font-weight="bold" text-anchor="end" stroke="#000" stroke-width="0.45">6</text>
<rect x="1250.6" y="1160.2" width="11.7" height="4.4"/>
<text transform="translate(1243.3 1170.2) scale(0.94 1)" font-size="23.2" font-weight="bold" text-anchor="end" stroke="#000" stroke-width="0.45">4</text>
<rect x="1250.6" y="1234.8" width="11.7" height="4.4"/>
<text transform="translate(1243.3 1244.8) scale(0.94 1)" font-size="23.2" font-weight="bold" text-anchor="end" stroke="#000" stroke-width="0.45">2</text>
<rect x="1250.6" y="1309.7" width="11.7" height="4.6"/>
<text transform="translate(1243.3 1319.8) scale(0.94 1)" font-size="23.2" font-weight="bold" text-anchor="end" stroke="#000" stroke-width="0.45">0</text>
<rect x="1304.7" y="1312" width="4.6" height="11.7"/>
<text x="1311.9" y="1339.4" font-size="23.5" font-weight="bold" stroke="#000" stroke-width="0.7" text-anchor="end" transform="rotate(-45 1311.9 1339.4)">Ctr</text>
<rect x="1394.7" y="1312" width="4.6" height="11.7"/>
<text x="1401.9" y="1339.4" font-size="23.5" font-weight="bold" stroke="#000" stroke-width="0.7" text-anchor="end" transform="rotate(-45 1401.9 1339.4)">Tg</text>
<text x="1209.4" y="1159.3" font-size="24.8" stroke="#000" stroke-width="0.45" text-anchor="middle" transform="rotate(-90 1209.4 1159.3)">Total cell number (x10<tspan font-size="17.86" dy="-10.91">6</tspan><tspan dy="10.91">)</tspan></text>
<rect x="1277.3" y="1234.55" width="59.4" height="2.9"/>
<rect x="1291" y="1202.15" width="32" height="2.9"/>
<rect x="1291" y="1266.55" width="32" height="2.9"/>
<rect x="1305.55" y="1203.6" width="2.9" height="64.4"/>
<circle cx="1307.4" cy="1188" r="5.75"/>
<circle cx="1325.4" cy="1222.4" r="5.75"/>
<circle cx="1289" cy="1230" r="5.75"/>
<circle cx="1307" cy="1231" r="5.75"/>
<circle cx="1316" cy="1268.6" r="5.75"/>
<circle cx="1298" cy="1276" r="5.75"/>
<rect x="1367.3" y="1158.55" width="59.4" height="2.9"/>
<rect x="1381" y="1088.55" width="32" height="2.9"/>
<rect x="1381" y="1229.55" width="32" height="2.9"/>
<rect x="1395.55" y="1090" width="2.9" height="141"/>
<rect x="1391.25" y="1072.65" width="11.5" height="11.5"/>
<rect x="1391.25" y="1100.85" width="11.5" height="11.5"/>
<rect x="1382.25" y="1137.25" width="11.5" height="11.5"/>
<rect x="1400.25" y="1138.65" width="11.5" height="11.5"/>
<rect x="1400.25" y="1232.65" width="11.5" height="11.5"/>
<rect x="1382.25" y="1245.85" width="11.5" height="11.5"/>
<text x="1348.2" y="1036.6" font-size="23.3" stroke="#000" stroke-width="0.45" textLength="78.4" lengthAdjust="spacingAndGlyphs">P=0.04</text>
</g>
<g>
<rect x="110.7" y="1513.8" width="4.6" height="305"/>
<rect x="110.7" y="1814.2" width="182.3" height="4.6"/>
<rect x="102" y="1513.8" width="11" height="4.4"/>
<text transform="translate(101.7 1523.8) scale(0.94 1)" font-size="23.2" font-weight="bold" text-anchor="end" stroke="#000" stroke-width="0.45">15</text>
<rect x="102" y="1614.2" width="11" height="4.4"/>
<text transform="translate(101.7 1624.2) scale(0.94 1)" font-size="23.2" font-weight="bold" text-anchor="end" stroke="#000" stroke-width="0.45">10</text>
<rect x="102" y="1714.2" width="11" height="4.4"/>
<text transform="translate(101.7 1724.2) scale(0.94 1)" font-size="23.2" font-weight="bold" text-anchor="end" stroke="#000" stroke-width="0.45">5</text>
<rect x="102" y="1814.2" width="11" height="4.6"/>
<text transform="translate(101.7 1824.3) scale(0.94 1)" font-size="23.2" font-weight="bold" text-anchor="end" stroke="#000" stroke-width="0.45">0</text>
<rect x="155.7" y="1816.5" width="4.6" height="11.7"/>
<text x="162.9" y="1843.9" font-size="23.5" font-weight="bold" stroke="#000" stroke-width="0.7" text-anchor="end" transform="rotate(-45 162.9 1843.9)">Ctr</text>
<rect x="245.7" y="1816.5" width="4.6" height="11.7"/>
<text x="252.9" y="1843.9" font-size="23.5" font-weight="bold" stroke="#000" stroke-width="0.7" text-anchor="end" transform="rotate(-45 252.9 1843.9)">Tg</text>
<text x="62" y="1664" font-size="24.8" stroke="#000" stroke-width="0.45" text-anchor="middle" transform="rotate(-90 62 1664)">Total cell number (x10<tspan font-size="17.86" dy="-10.91">6</tspan><tspan dy="10.91">)</tspan></text>
<rect x="128.3" y="1665.55" width="59.4" height="2.9"/>
<rect x="142" y="1634.15" width="32" height="2.9"/>
<rect x="142" y="1697.15" width="32" height="2.9"/>
<rect x="156.55" y="1635.6" width="2.9" height="63"/>
<circle cx="158" cy="1623" r="5.75"/>
<circle cx="158" cy="1642" r="5.75"/>
<circle cx="176.6" cy="1672" r="5.75"/>
<circle cx="140" cy="1677" r="5.75"/>
<circle cx="158" cy="1678" r="5.75"/>
<circle cx="158" cy="1712.6" r="5.75"/>
<rect x="218.3" y="1764.15" width="59.4" height="2.9"/>
<rect x="232" y="1747.15" width="32" height="2.9"/>
<rect x="232" y="1780.55" width="32" height="2.9"/>
<rect x="246.55" y="1748.6" width="2.9" height="33.4"/>
<rect x="242.25" y="1736.65" width="11.5" height="11.5"/>
<rect x="220.25" y="1751.65" width="11.5" height="11.5"/>
<rect x="265.25" y="1753.25" width="11.5" height="11.5"/>
<rect x="234.85" y="1764.25" width="11.5" height="11.5"/>
<rect x="249.85" y="1766.25" width="11.5" height="11.5"/>
<rect x="242.25" y="1786.25" width="11.5" height="11.5"/>
<text x="130.2" y="1549.4" font-size="23.3" stroke="#000" stroke-width="0.45" textLength="108" lengthAdjust="spacingAndGlyphs">P=0.0002</text>
</g>
<g>
<rect x="410.7" y="1512.3" width="4.6" height="305"/>
<rect x="410.7" y="1812.7" width="182.3" height="4.6"/>
<rect x="401.4" y="1512.3" width="11.6" height="4.4"/>
<text transform="translate(400.7 1522.3) scale(0.94 1)" font-size="23.2" font-weight="bold" text-anchor="end" stroke="#000" stroke-width="0.45">250</text>
<rect x="401.4" y="1572.8" width="11.6" height="4.4"/>
<text transform="translate(400.7 1582.8) scale(0.94 1)" font-size="23.2" font-weight="bold" text-anchor="end" stroke="#000" stroke-width="0.45">200</text>
<rect x="401.4" y="1632.8" width="11.6" height="4.4"/>
<text transform="translate(400.7 1642.8) scale(0.94 1)" font-size="23.2" font-weight="bold" text-anchor="end" stroke="#000" stroke-width="0.45">150</text>
<rect x="401.4" y="1692.8" width="11.6" height="4.4"/>
<text transform="translate(400.7 1702.8) scale(0.94 1)" font-size="23.2" font-weight="bold" text-anchor="end" stroke="#000" stroke-width="0.45">100</text>
<rect x="401.4" y="1752.8" width="11.6" height="4.4"/>
<text transform="translate(400.7 1762.8) scale(0.94 1)" font-size="23.2" font-weight="bold" text-anchor="end" stroke="#000" stroke-width="0.45">50</text>
<rect x="401.4" y="1812.7" width="11.6" height="4.6"/>
<text transform="translate(400.7 1822.8) scale(0.94 1)" font-size="23.2" font-weight="bold" text-anchor="end" stroke="#000" stroke-width="0.45">0</text>
<rect x="455.7" y="1815" width="4.6" height="11.7"/>
<text x="462.9" y="1842.4" font-size="23.5" font-weight="bold" stroke="#000" stroke-width="0.7" text-anchor="end" transform="rotate(-45 462.9 1842.4)">Ctr</text>
<rect x="545.7" y="1815" width="4.6" height="11.7"/>
<text x="552.9" y="1842.4" font-size="23.5" font-weight="bold" stroke="#000" stroke-width="0.7" text-anchor="end" transform="rotate(-45 552.9 1842.4)">Tg</text>
<text x="351.6" y="1660.5" font-size="24.8" stroke="#000" stroke-width="0.45" text-anchor="middle" transform="rotate(-90 351.6 1660.5)">Total cell number (x10<tspan font-size="17.86" dy="-10.91">4</tspan><tspan dy="10.91">)</tspan></text>
<rect x="428.3" y="1714.55" width="59.4" height="2.9"/>
<rect x="442" y="1675.95" width="32" height="2.9"/>
<rect x="442" y="1753.55" width="32" height="2.9"/>
<rect x="456.55" y="1677.4" width="2.9" height="77.6"/>
<circle cx="458" cy="1653.6" r="5.75"/>
<circle cx="458.6" cy="1702.6" r="5.75"/>
<circle cx="449.4" cy="1707" r="5.75"/>
<circle cx="467.4" cy="1722.6" r="5.75"/>
<circle cx="467.4" cy="1753.6" r="5.75"/>
<circle cx="449.4" cy="1760" r="5.75"/>
<rect x="518.3" y="1711.55" width="59.4" height="2.9"/>
<rect x="532" y="1632.15" width="32" height="2.9"/>
<rect x="532" y="1790.95" width="32" height="2.9"/>
<rect x="546.55" y="1633.6" width="2.9" height="158.8"/>
<rect x="542.85" y="1573.25" width="11.5" height="11.5"/>
<rect x="542.85" y="1664.25" width="11.5" height="11.5"/>
<rect x="533.25" y="1715.25" width="11.5" height="11.5"/>
<rect x="551.65" y="1729.85" width="11.5" height="11.5"/>
<rect x="533.25" y="1782.25" width="11.5" height="11.5"/>
<rect x="551.65" y="1781.65" width="11.5" height="11.5"/>
</g>
<g>
<rect x="705" y="1514.3" width="4.6" height="305.5"/>
<rect x="705" y="1815.2" width="182.2" height="4.6"/>
<rect x="695.6" y="1514.3" width="11.7" height="4.4"/>
<text transform="translate(695.3 1524.3) scale(0.94 1)" font-size="23.2" font-weight="bold" text-anchor="end" stroke="#000" stroke-width="0.45">15</text>
<rect x="695.6" y="1614.4" width="11.7" height="4.4"/>
<text transform="translate(695.3 1624.4) scale(0.94 1)" font-size="23.2" font-weight="bold" text-anchor="end" stroke="#000" stroke-width="0.45">10</text>
<rect x="695.6" y="1714.8" width="11.7" height="4.4"/>
<text transform="translate(695.3 1724.8) scale(0.94 1)" font-size="23.2" font-weight="bold" text-anchor="end" stroke="#000" stroke-width="0.45">5</text>
<rect x="695.6" y="1815.2" width="11.7" height="4.6"/>
<text transform="translate(695.3 1825.3) scale(0.94 1)" font-size="23.2" font-weight="bold" text-anchor="end" stroke="#000" stroke-width="0.45">0</text>
<rect x="750.3" y="1817.5" width="4.6" height="11.7"/>
<text x="757.5" y="1844.9" font-size="23.5" font-weight="bold" stroke="#000" stroke-width="0.7" text-anchor="end" transform="rotate(-45 757.5 1844.9)">Ctr</text>
<rect x="840.3" y="1817.5" width="4.6" height="11.7"/>
<text x="847.5" y="1844.9" font-size="23.5" font-weight="bold" stroke="#000" stroke-width="0.7" text-anchor="end" transform="rotate(-45 847.5 1844.9)">Tg</text>
<text x="656.4" y="1665" font-size="24.8" stroke="#000" stroke-width="0.45" text-anchor="middle" transform="rotate(-90 656.4 1665)">Total cell number (x10<tspan font-size="17.86" dy="-10.91">4</tspan><tspan dy="10.91">)</tspan></text>
<rect x="722.9" y="1664.95" width="59.4" height="2.9"/>
<rect x="736.6" y="1601.55" width="32" height="2.9"/>
<rect x="736.6" y="1727.95" width="32" height="2.9"/>
<rect x="751.15" y="1603" width="2.9" height="126.4"/>
<circle cx="752.6" cy="1601.6" r="5.75"/>
<circle cx="761.6" cy="1608" r="5.75"/>
<circle cx="743.4" cy="1620.4" r="5.75"/>
<circle cx="743.4" cy="1708.6" r="5.75"/>
<circle cx="761.6" cy="1717.6" r="5.75"/>
<circle cx="752.6" cy="1742.6" r="5.75"/>
<rect x="812.9" y="1648.55" width="59.4" height="2.9"/>
<rect x="826.6" y="1585.15" width="32" height="2.9"/>
<rect x="826.6" y="1713.15" width="32" height="2.9"/>
<rect x="841.15" y="1586.6" width="2.9" height="128"/>
<rect x="836.85" y="1545.25" width="11.5" height="11.5"/>
<rect x="836.85" y="1601.25" width="11.5" height="11.5"/>
<rect x="836.85" y="1632.25" width="11.5" height="11.5"/>
<rect x="836.85" y="1679.25" width="11.5" height="11.5"/>
<rect x="845.85" y="1698.65" width="11.5" height="11.5"/>
<rect x="827.65" y="1712.65" width="11.5" height="11.5"/>
</g>
<g>
<rect x="114.7" y="1948.3" width="4.6" height="297"/>
<rect x="114.7" y="2240.7" width="177.9" height="4.6"/>
<rect x="106" y="1948.3" width="11" height="4.4"/>
<text transform="translate(105.7 1958.3) scale(0.94 1)" font-size="23.2" font-weight="bold" text-anchor="end" stroke="#000" stroke-width="0.45">1100</text>
<rect x="106" y="2021.4" width="11" height="4.4"/>
<text transform="translate(105.7 2031.4) scale(0.94 1)" font-size="23.2" font-weight="bold" text-anchor="end" stroke="#000" stroke-width="0.45">1000</text>
<rect x="106" y="2094.4" width="11" height="4.4"/>
<text transform="translate(105.7 2104.4) scale(0.94 1)" font-size="23.2" font-weight="bold" text-anchor="end" stroke="#000" stroke-width="0.45">900</text>
<rect x="106" y="2167.2" width="11" height="4.4"/>
<text transform="translate(105.7 2177.2) scale(0.94 1)" font-size="23.2" font-weight="bold" text-anchor="end" stroke="#000" stroke-width="0.45">800</text>
<rect x="106" y="2240.7" width="11" height="4.6"/>
<text transform="translate(105.7 2250.8) scale(0.94 1)" font-size="23.2" font-weight="bold" text-anchor="end" stroke="#000" stroke-width="0.45">700</text>
<rect x="158.7" y="2243" width="4.6" height="11.7"/>
<text x="165.9" y="2270.4" font-size="23.5" font-weight="bold" stroke="#000" stroke-width="0.7" text-anchor="end" transform="rotate(-45 165.9 2270.4)">Ctr</text>
<rect x="246.7" y="2243" width="4.6" height="11.7"/>
<text x="253.9" y="2270.4" font-size="23.5" font-weight="bold" stroke="#000" stroke-width="0.7" text-anchor="end" transform="rotate(-45 253.9 2270.4)">Tg</text>
<text x="49.8" y="2094.6" font-size="23.9" font-weight="bold" stroke="#000" stroke-width="0.4" text-anchor="middle" transform="rotate(-90 49.8 2094.6)">RBC (x10<tspan font-size="15.3" dy="-10.99">4</tspan><tspan dy="10.99">/ul)</tspan></text>
<rect x="131.3" y="2090.15" width="59.4" height="2.9"/>
<rect x="145" y="2067.95" width="32" height="2.9"/>
<rect x="145" y="2111.95" width="32" height="2.9"/>
<rect x="159.55" y="2069.4" width="2.9" height="44"/>
<circle cx="161" cy="2055.6" r="5.75"/>
<circle cx="139" cy="2089" r="5.75"/>
<circle cx="183.6" cy="2089.4" r="5.75"/>
<circle cx="153.4" cy="2096.4" r="5.75"/>
<circle cx="168.6" cy="2097" r="5.75"/>
<circle cx="161" cy="2123.6" r="5.75"/>
<rect x="219.3" y="2092.55" width="59.4" height="2.9"/>
<rect x="233" y="2042.95" width="32" height="2.9"/>
<rect x="233" y="2141.55" width="32" height="2.9"/>
<rect x="247.55" y="2044.4" width="2.9" height="98.6"/>
<rect x="243.25" y="2025.85" width="11.5" height="11.5"/>
<rect x="243.25" y="2050.85" width="11.5" height="11.5"/>
<rect x="252.25" y="2076.85" width="11.5" height="11.5"/>
<rect x="234.25" y="2087.25" width="11.5" height="11.5"/>
<rect x="243.25" y="2127.65" width="11.5" height="11.5"/>
<rect x="243.25" y="2160.65" width="11.5" height="11.5"/>
</g>
<g>
<rect x="414.7" y="1952.3" width="4.6" height="296.6"/>
<rect x="414.7" y="2244.3" width="177.3" height="4.6"/>
<rect x="405.6" y="1952.3" width="11.4" height="4.4"/>
<text transform="translate(404.3 1962.3) scale(0.94 1)" font-size="23.2" font-weight="bold" text-anchor="end" stroke="#000" stroke-width="0.45">250</text>
<rect x="405.6" y="2010.4" width="11.4" height="4.4"/>
<text transform="translate(404.3 2020.4) scale(0.94 1)" font-size="23.2" font-weight="bold" text-anchor="end" stroke="#000" stroke-width="0.45">200</text>
<rect x="405.6" y="2069.2" width="11.4" height="4.4"/>
<text transform="translate(404.3 2079.2) scale(0.94 1)" font-size="23.2" font-weight="bold" text-anchor="end" stroke="#000" stroke-width="0.45">150</text>
<rect x="405.6" y="2127.4" width="11.4" height="4.4"/>
<text transform="translate(404.3 2137.4) scale(0.94 1)" font-size="23.2" font-weight="bold" text-anchor="end" stroke="#000" stroke-width="0.45">100</text>
<rect x="405.6" y="2185.8" width="11.4" height="4.4"/>
<text transform="translate(404.3 2195.8) scale(0.94 1)" font-size="23.2" font-weight="bold" text-anchor="end" stroke="#000" stroke-width="0.45">50</text>
<rect x="405.6" y="2244.3" width="11.4" height="4.6"/>
<text transform="translate(404.3 2254.4) scale(0.94 1)" font-size="23.2" font-weight="bold" text-anchor="end" stroke="#000" stroke-width="0.45">0</text>
<rect x="458.7" y="2246.6" width="4.6" height="11.7"/>
<text x="465.9" y="2274" font-size="23.5" font-weight="bold" stroke="#000" stroke-width="0.7" text-anchor="end" transform="rotate(-45 465.9 2274)">Ctr</text>
<rect x="546.7" y="2246.6" width="4.6" height="11.7"/>
<text x="553.9" y="2274" font-size="23.5" font-weight="bold" stroke="#000" stroke-width="0.7" text-anchor="end" transform="rotate(-45 553.9 2274)">Tg</text>
<text x="360.8" y="2098.8" font-size="23.6" font-weight="bold" stroke="#000" stroke-width="0.4" text-anchor="middle" transform="rotate(-90 360.8 2098.8)">WBC (x10<tspan font-size="15.1" dy="-10.86">2</tspan><tspan dy="10.86">/ul)</tspan></text>
<rect x="431.3" y="2118.95" width="59.4" height="2.9"/>
<rect x="445" y="2046.55" width="32" height="2.9"/>
<rect x="445" y="2191.15" width="32" height="2.9"/>
<rect x="459.55" y="2048" width="2.9" height="144.6"/>
<circle cx="461" cy="2015.6" r="5.75"/>
<circle cx="461" cy="2055.6" r="5.75"/>
<circle cx="461" cy="2116" r="5.75"/>
<circle cx="461" cy="2155" r="5.75"/>
<circle cx="452" cy="2191" r="5.75"/>
<circle cx="470" cy="2189.4" r="5.75"/>
<rect x="519.3" y="2094.55" width="59.4" height="2.9"/>
<rect x="533" y="2029.95" width="32" height="2.9"/>
<rect x="533" y="2160.15" width="32" height="2.9"/>
<rect x="547.55" y="2031.4" width="2.9" height="130.2"/>
<rect x="543.25" y="1967.85" width="11.5" height="11.5"/>
<rect x="543.25" y="2076.65" width="11.5" height="11.5"/>
<rect x="543.25" y="2097.85" width="11.5" height="11.5"/>
<rect x="543.25" y="2121.25" width="11.5" height="11.5"/>
<rect x="552.25" y="2135.25" width="11.5" height="11.5"/>
<rect x="534.25" y="2145.85" width="11.5" height="11.5"/>
</g>
<g>
<rect x="715" y="1948.8" width="4.6" height="298.5"/>
<rect x="715" y="2242.7" width="177" height="4.6"/>
<rect x="706" y="1948.8" width="11.3" height="4.4"/>
<text transform="translate(704.9 1958.8) scale(0.94 1)" font-size="23.2" font-weight="bold" text-anchor="end" stroke="#000" stroke-width="0.45">150</text>
<rect x="706" y="2047.2" width="11.3" height="4.4"/>
<text transform="translate(704.9 2057.2) scale(0.94 1)" font-size="23.2" font-weight="bold" text-anchor="end" stroke="#000" stroke-width="0.45">100</text>
<rect x="706" y="2144.8" width="11.3" height="4.4"/>
<text transform="translate(704.9 2154.8) scale(0.94 1)" font-size="23.2" font-weight="bold" text-anchor="end" stroke="#000" stroke-width="0.45">50</text>
<rect x="706" y="2242.7" width="11.3" height="4.6"/>
<text transform="translate(704.9 2252.8) scale(0.94 1)" font-size="23.2" font-weight="bold" text-anchor="end" stroke="#000" stroke-width="0.45">0</text>
<rect x="758.3" y="2245" width="4.6" height="11.7"/>
<text x="765.5" y="2272.4" font-size="23.5" font-weight="bold" stroke="#000" stroke-width="0.7" text-anchor="end" transform="rotate(-45 765.5 2272.4)">Ctr</text>
<rect x="846.3" y="2245" width="4.6" height="11.7"/>
<text x="853.5" y="2272.4" font-size="23.5" font-weight="bold" stroke="#000" stroke-width="0.7" text-anchor="end" transform="rotate(-45 853.5 2272.4)">Tg</text>
<text x="661" y="2096.9" font-size="24.1" font-weight="bold" stroke="#000" stroke-width="0.4" text-anchor="middle" transform="rotate(-90 661 2096.9)">PLT (x10<tspan font-size="15.42" dy="-11.09">4/</tspan><tspan dy="11.09">ul)</tspan></text>
<rect x="731.3" y="2160.55" width="59.4" height="2.9"/>
<rect x="745" y="2080.15" width="32" height="2.9"/>
<rect x="745" y="2240.55" width="32" height="2.9"/>
<rect x="759.55" y="2081.6" width="2.9" height="160.4"/>
<circle cx="760.6" cy="2022.4" r="5.75"/>
<circle cx="760.6" cy="2110" r="5.75"/>
<circle cx="761" cy="2193.6" r="5.75"/>
<circle cx="752" cy="2198" r="5.75"/>
<circle cx="770" cy="2214" r="5.75"/>
<circle cx="761" cy="2233" r="5.75"/>
<rect x="818.9" y="2126.95" width="59.4" height="2.9"/>
<rect x="832.6" y="2064.95" width="32" height="2.9"/>
<rect x="832.6" y="2188.95" width="32" height="2.9"/>
<rect x="847.15" y="2066.4" width="2.9" height="124"/>
<rect x="833.85" y="2044.25" width="11.5" height="11.5"/>
<rect x="851.85" y="2055.65" width="11.5" height="11.5"/>
<rect x="842.85" y="2116.85" width="11.5" height="11.5"/>
<rect x="842.85" y="2148.65" width="11.5" height="11.5"/>
<rect x="851.85" y="2179.25" width="11.5" height="11.5"/>
<rect x="833.85" y="2191.25" width="11.5" height="11.5"/>
</g>
<g>
<rect x="999.4" y="1951.8" width="4.6" height="297.1"/>
<rect x="999.4" y="2244.3" width="178.2" height="4.6"/>
<rect x="990.4" y="1951.8" width="11.3" height="4.4"/>
<text transform="translate(989.9 1961.8) scale(0.94 1)" font-size="23.2" font-weight="bold" text-anchor="end" stroke="#000" stroke-width="0.45">55</text>
<rect x="990.4" y="2025.2" width="11.3" height="4.4"/>
<text transform="translate(989.9 2035.2) scale(0.94 1)" font-size="23.2" font-weight="bold" text-anchor="end" stroke="#000" stroke-width="0.45">50</text>
<rect x="990.4" y="2098.4" width="11.3" height="4.4"/>
<text transform="translate(989.9 2108.4) scale(0.94 1)" font-size="23.2" font-weight="bold" text-anchor="end" stroke="#000" stroke-width="0.45">45</text>
<rect x="990.4" y="2171.4" width="11.3" height="4.4"/>
<text transform="translate(989.9 2181.4) scale(0.94 1)" font-size="23.2" font-weight="bold" text-anchor="end" stroke="#000" stroke-width="0.45">40</text>
<rect x="990.4" y="2244.3" width="11.3" height="4.6"/>
<text transform="translate(989.9 2254.4) scale(0.94 1)" font-size="23.2" font-weight="bold" text-anchor="end" stroke="#000" stroke-width="0.45">35</text>
<rect x="1043.7" y="2246.6" width="4.6" height="11.7"/>
<text x="1050.9" y="2274" font-size="23.5" font-weight="bold" stroke="#000" stroke-width="0.7" text-anchor="end" transform="rotate(-45 1050.9 2274)">Ctr</text>
<rect x="1131.3" y="2246.6" width="4.6" height="11.7"/>
<text x="1138.5" y="2274" font-size="23.5" font-weight="bold" stroke="#000" stroke-width="0.7" text-anchor="end" transform="rotate(-45 1138.5 2274)">Tg</text>
<text x="951.6" y="2099.2" font-size="24" font-weight="bold" stroke="#000" stroke-width="0.4" text-anchor="middle" transform="rotate(-90 951.6 2099.2)">HCT (%)</text>
<rect x="1016.3" y="2082.15" width="59.4" height="2.9"/>
<rect x="1030" y="2055.55" width="32" height="2.9"/>
<rect x="1030" y="2109.15" width="32" height="2.9"/>
<rect x="1044.55" y="2057" width="2.9" height="53.6"/>
<circle cx="1046" cy="2040.6" r="5.75"/>
<circle cx="1037" cy="2067" r="5.75"/>
<circle cx="1055" cy="2080" r="5.75"/>
<circle cx="1028" cy="2100.6" r="5.75"/>
<circle cx="1046" cy="2107" r="5.75"/>
<circle cx="1064" cy="2106.4" r="5.75"/>
<rect x="1103.9" y="2099.15" width="59.4" height="2.9"/>
<rect x="1117.6" y="2039.95" width="32" height="2.9"/>
<rect x="1117.6" y="2158.55" width="32" height="2.9"/>
<rect x="1132.15" y="2041.4" width="2.9" height="118.6"/>
<rect x="1127.85" y="2011.25" width="11.5" height="11.5"/>
<rect x="1118.85" y="2068.65" width="11.5" height="11.5"/>
<rect x="1137.25" y="2071.85" width="11.5" height="11.5"/>
<rect x="1127.85" y="2096.25" width="11.5" height="11.5"/>
<rect x="1127.85" y="2144.85" width="11.5" height="11.5"/>
<rect x="1127.85" y="2178.65" width="11.5" height="11.5"/>
</g>
<g>
<rect x="1264.4" y="1949.8" width="4.6" height="296.5"/>
<rect x="1264.4" y="2241.7" width="176.6" height="4.6"/>
<rect x="1255.4" y="1949.8" width="11.3" height="4.4"/>
<text transform="translate(1255.3 1959.8) scale(0.94 1)" font-size="23.2" font-weight="bold" text-anchor="end" stroke="#000" stroke-width="0.45">16</text>
<rect x="1255.4" y="2008.4" width="11.3" height="4.4"/>
<text transform="translate(1255.3 2018.4) scale(0.94 1)" font-size="23.2" font-weight="bold" text-anchor="end" stroke="#000" stroke-width="0.45">15</text>
<rect x="1255.4" y="2066.8" width="11.3" height="4.4"/>
<text transform="translate(1255.3 2076.8) scale(0.94 1)" font-size="23.2" font-weight="bold" text-anchor="end" stroke="#000" stroke-width="0.45">14</text>
<rect x="1255.4" y="2124.8" width="11.3" height="4.4"/>
<text transform="translate(1255.3 2134.8) scale(0.94 1)" font-size="23.2" font-weight="bold" text-anchor="end" stroke="#000" stroke-width="0.45">13</text>
<rect x="1255.4" y="2183.4" width="11.3" height="4.4"/>
<text transform="translate(1255.3 2193.4) scale(0.94 1)" font-size="23.2" font-weight="bold" text-anchor="end" stroke="#000" stroke-width="0.45">12</text>
<rect x="1255.4" y="2241.7" width="11.3" height="4.6"/>
<text transform="translate(1255.3 2251.8) scale(0.94 1)" font-size="23.2" font-weight="bold" text-anchor="end" stroke="#000" stroke-width="0.45">11</text>
<rect x="1307.7" y="2244" width="4.6" height="11.7"/>
<text x="1314.9" y="2271.4" font-size="23.5" font-weight="bold" stroke="#000" stroke-width="0.7" text-anchor="end" transform="rotate(-45 1314.9 2271.4)">Ctr</text>
<rect x="1395.7" y="2244" width="4.6" height="11.7"/>
<text x="1402.9" y="2271.4" font-size="23.5" font-weight="bold" stroke="#000" stroke-width="0.7" text-anchor="end" transform="rotate(-45 1402.9 2271.4)">Tg</text>
<text x="1214.6" y="2087.5" font-size="24.5" font-weight="bold" stroke="#000" stroke-width="0.4" text-anchor="middle" transform="rotate(-90 1214.6 2087.5)">Hb(g/dl)</text>
<rect x="1280.7" y="2079.15" width="59.4" height="2.9"/>
<rect x="1294.4" y="2050.55" width="32" height="2.9"/>
<rect x="1294.4" y="2107.55" width="32" height="2.9"/>
<rect x="1308.95" y="2052" width="2.9" height="57"/>
<circle cx="1310.6" cy="2040" r="5.75"/>
<circle cx="1319.4" cy="2063" r="5.75"/>
<circle cx="1301.6" cy="2068.6" r="5.75"/>
<circle cx="1310.6" cy="2092" r="5.75"/>
<circle cx="1319.4" cy="2104.6" r="5.75"/>
<circle cx="1301.6" cy="2116.6" r="5.75"/>
<rect x="1368.3" y="2108.55" width="59.4" height="2.9"/>
<rect x="1382" y="2043.95" width="32" height="2.9"/>
<rect x="1382" y="2173.15" width="32" height="2.9"/>
<rect x="1396.55" y="2045.4" width="2.9" height="129.2"/>
<rect x="1392.25" y="2011.25" width="11.5" height="11.5"/>
<rect x="1383.25" y="2075.25" width="11.5" height="11.5"/>
<rect x="1401.25" y="2081.25" width="11.5" height="11.5"/>
<rect x="1392.25" y="2110.25" width="11.5" height="11.5"/>
<rect x="1392.25" y="2150.85" width="11.5" height="11.5"/>
<rect x="1392.25" y="2197.85" width="11.5" height="11.5"/>
</g>
<text x="229.5" y="34.5" font-size="28.8" font-weight="bold" stroke="#000" stroke-width="0.4" text-anchor="middle">Total BM cells</text>
<text x="510.2" y="33.1" font-size="27" font-weight="bold" stroke="#000" stroke-width="0.4" text-anchor="middle">LSK</text>
<text x="796.5" y="32.8" font-size="27" font-weight="bold" stroke="#000" stroke-width="0.4" text-anchor="middle">CD150<tspan font-size="16.74" dy="-6.75" dx="-0.5">+</tspan><tspan dy="6.75" dx="-0.6">CD48</tspan><tspan font-size="16.74" dy="-8.37">-</tspan></text>
<text x="805.8" y="59.2" font-size="26.5" font-weight="bold" stroke="#000" stroke-width="0.4" text-anchor="middle">LSK</text>
<text x="1101" y="33" font-size="26.5" font-weight="bold" stroke="#000" stroke-width="0.4" text-anchor="middle">LK</text>
<text x="207.9" y="489.2" font-size="27" font-weight="bold" stroke="#000" stroke-width="0.4" text-anchor="middle">CMP</text>
<text x="470" y="489.2" font-size="27" font-weight="bold" stroke="#000" stroke-width="0.4" text-anchor="middle">GMP</text>
<text x="757.5" y="490" font-size="27" font-weight="bold" stroke="#000" stroke-width="0.4" text-anchor="middle">MEP</text>
<text x="206.2" y="956.8" font-size="26.7" font-weight="bold" stroke="#000" stroke-width="0.4" text-anchor="middle">B cell</text>
<text x="204.2" y="989.5" font-size="27.2" font-weight="bold" stroke="#000" stroke-width="0.4" text-anchor="middle">(B220<tspan font-size="14.42" dy="-8.16">+</tspan><tspan dy="8.16" dx="-1">)</tspan></text>
<text x="477.7" y="956.8" font-size="26.5" font-weight="bold" stroke="#000" stroke-width="0.4" text-anchor="middle">Granulocyte</text>
<text x="481.4" y="989.5" font-size="27.2" font-weight="bold" stroke="#000" stroke-width="0.4" text-anchor="middle">(Gri1<tspan font-size="14.42" dy="-8.16" dx="-0.5">+</tspan><tspan dy="8.16"> CD11b</tspan><tspan font-size="14.42" dy="-8.98">-</tspan><tspan dy="8.98">)</tspan></text>
<text x="781" y="959.8" font-size="27.2" font-weight="bold" stroke="#000" stroke-width="0.4" text-anchor="middle">Monocyte</text>
<text x="783.9" y="992.6" font-size="27.3" font-weight="bold" stroke="#000" stroke-width="0.4" text-anchor="middle">(Gri1<tspan font-size="14.47" dy="-9.01" dx="-0.6">-</tspan><tspan dy="9.01" dx="-2.6"> CD11b</tspan><tspan font-size="14.47" dy="-8.19" dx="-0.8">+</tspan><tspan dy="8.19" dx="-0.5">)</tspan></text>
<text x="1083.2" y="961.3" font-size="29.5" font-weight="bold" stroke="#000" stroke-width="0.4" text-anchor="middle">Macrophage</text>
<text x="1088.2" y="995.3" font-size="29.3" font-weight="bold" stroke="#000" stroke-width="0.4" text-anchor="middle">(F4/80<tspan font-size="15.53" dy="-8.79" dx="-0.4">+</tspan><tspan dy="8.79" dx="-1">)</tspan></text>
<text x="1343.2" y="955.6" font-size="26.3" font-weight="bold" stroke="#000" stroke-width="0.4" text-anchor="middle">Proerythroblast</text>
<text x="1347.4" y="989" font-size="26.3" font-weight="bold" stroke="#000" stroke-width="0.4" text-anchor="middle">(CD71<tspan font-size="13.94" dy="-8.94" dx="3.9">+</tspan><tspan dy="8.94" dx="2.5"> Ter119</tspan><tspan font-size="13.94" dy="-9.21" dx="1">-</tspan><tspan dy="9.21" dx="0.7">)</tspan></text>
<text x="193.2" y="1456.2" font-size="26.7" font-weight="bold" stroke="#000" stroke-width="0.4" text-anchor="middle">Erythroblast</text>
<text x="193.5" y="1489.3" font-size="27.3" font-weight="bold" stroke="#000" stroke-width="0.4" text-anchor="middle">(CD71<tspan font-size="14.47" dy="-8.19" dx="0.3">+</tspan><tspan dy="8.19" dx="1"> Ter119</tspan><tspan font-size="14.47" dy="-8.19">+</tspan><tspan dy="8.19" dx="-0.7">)</tspan></text>
<text x="505.5" y="1456.6" font-size="27" font-weight="bold" stroke="#000" stroke-width="0.4" text-anchor="middle">Erythrocyte</text>
<text x="507.2" y="1489.3" font-size="27.1" font-weight="bold" stroke="#000" stroke-width="0.4" text-anchor="middle">(CD71<tspan font-size="14.36" dy="-8.94" dx="0.5">-</tspan><tspan dy="8.94" dx="2.4"> Ter119</tspan><tspan font-size="14.36" dy="-8.13">+</tspan><tspan dy="8.13" dx="-0.7">)</tspan></text>
<text x="820.2" y="1456.6" font-size="27" font-weight="bold" stroke="#000" stroke-width="0.4" text-anchor="middle">Megakaryocyte</text>
<text x="815.5" y="1489.3" font-size="27.4" font-weight="bold" stroke="#000" stroke-width="0.4" text-anchor="middle">(CD41<tspan font-size="14.52" dy="-8.22">+</tspan><tspan dy="8.22" dx="-0.7">)</tspan></text>
<g transform="translate(204.5 1935.8) scale(1.03 1)">
<text x="0" y="0" font-size="24.2" text-anchor="middle" stroke="#000" stroke-width="0.9">RBC</text>
</g>
<g transform="translate(499.3 1935.8) scale(1 1)">
<text x="0" y="0" font-size="24.2" text-anchor="middle" stroke="#000" stroke-width="0.9">WBC</text>
</g>
<g transform="translate(807.1 1938.5) scale(1.04 1)">
<text x="0" y="0" font-size="24.2" text-anchor="middle" stroke="#000" stroke-width="0.9">Platelet</text>
</g>
<g transform="translate(1086.7 1938.5) scale(0.98 1)">
<text x="0" y="0" font-size="24.2" text-anchor="middle" stroke="#000" stroke-width="0.9">HCT</text>
</g>
<g transform="translate(1346.5 1938.5) scale(1 1)">
<text x="0" y="0" font-size="24.2" text-anchor="middle" stroke="#000" stroke-width="0.9">Hb</text>
</g>
<text transform="translate(4 37.2) scale(0.91 1)" font-size="63" font-weight="bold">a</text>
<text transform="translate(3.5 934.3) scale(1.03 1)" font-size="62" font-weight="bold">b</text>
<text transform="translate(3.8 1919.7) scale(0.97 1)" font-size="64" font-weight="bold">c</text>
</svg>
</body></html>
